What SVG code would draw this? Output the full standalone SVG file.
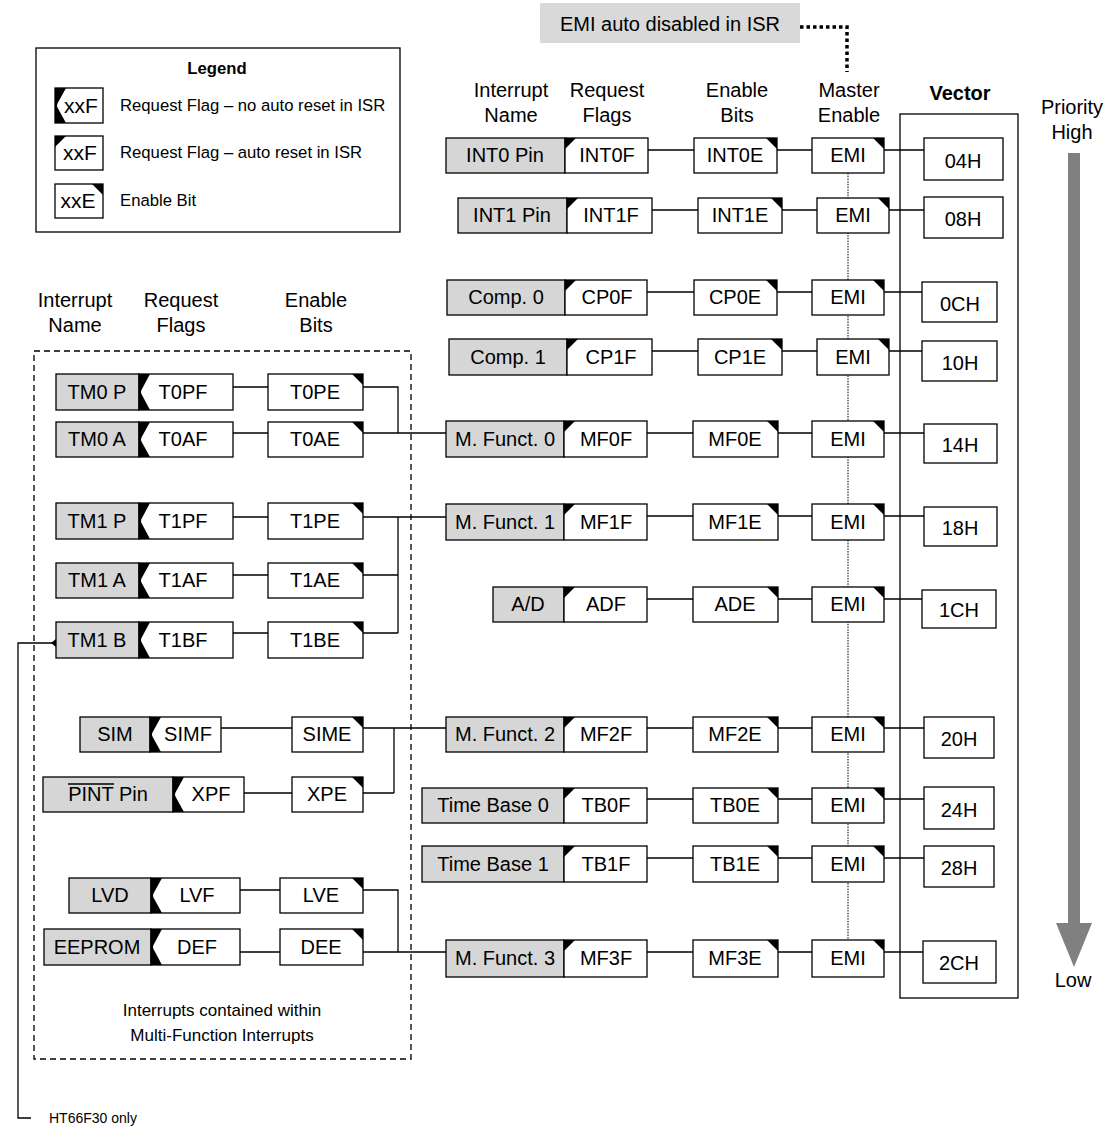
<svg xmlns="http://www.w3.org/2000/svg" width="1109" height="1129" viewBox="0 0 1109 1129">
<style>
.g{fill:#d6d6d6;stroke:#000;stroke-width:1.3}
.w{fill:#fff;stroke:#000;stroke-width:1.3}
.k{fill:#000;stroke:none}
.c{fill:none;stroke:#000;stroke-width:1.3}
.t{font-family:"Liberation Sans",Arial,sans-serif;font-size:20px;text-anchor:middle;fill:#000}
.s{font-family:"Liberation Sans",Arial,sans-serif;font-size:16.7px;fill:#000}
.b{font-weight:bold}
</style>
<rect width="1109" height="1129" fill="#fff"/>

<!-- Legend -->
<g id="legend">
<rect x="36" y="48" width="364" height="184" class="w"/>
<text x="217" y="74" class="s b" text-anchor="middle">Legend</text>
<rect x="55" y="88" width="48" height="35" class="w"/>
<path d="M55,88 H66 L58,102.5 Q56,105.5 58,108.5 L66,123 H55 Z" class="k"/>
<text x="81" y="113" class="t" style="font-size:21px">xxF</text>
<text x="120" y="111" class="s">Request Flag – no auto reset in ISR</text>
<rect x="55" y="136" width="48" height="34" class="w"/>
<path d="M55,136 H66 L55,147 Z" class="k"/>
<text x="80" y="160" class="t" style="font-size:21px">xxF</text>
<text x="120" y="158" class="s">Request Flag – auto reset in ISR</text>
<rect x="55" y="184" width="48" height="34" class="w"/>
<path d="M103,184 H92 L103,195 Z" class="k"/>
<text x="78" y="208" class="t" style="font-size:21px">xxE</text>
<text x="120" y="206" class="s">Enable Bit</text>
</g>

<!-- EMI note -->
<g id="emi-note">
<rect x="540" y="3" width="260" height="40" fill="#d9d9d9"/>
<text x="670" y="31" class="t">EMI auto disabled in ISR</text>
</g>

<!-- Headers -->
<g id="headers">
<text x="511" y="97" class="t">Interrupt</text><text x="511" y="122" class="t">Name</text>
<text x="607" y="97" class="t">Request</text><text x="607" y="122" class="t">Flags</text>
<text x="737" y="97" class="t">Enable</text><text x="737" y="122" class="t">Bits</text>
<text x="849" y="97" class="t">Master</text><text x="849" y="122" class="t">Enable</text>
<text x="960" y="100" class="t b">Vector</text>
<text x="1072" y="114" class="t">Priority</text><text x="1072" y="139" class="t">High</text>
<text x="75" y="307" class="t">Interrupt</text><text x="75" y="332" class="t">Name</text>
<text x="181" y="307" class="t">Request</text><text x="181" y="332" class="t">Flags</text>
<text x="316" y="307" class="t">Enable</text><text x="316" y="332" class="t">Bits</text>
</g>

<!-- Connectors -->
<g id="connectors">
<path d="M800,27 H847 V72" fill="none" stroke="#000" stroke-width="3.5" stroke-dasharray="3.5 3"/>
<path d="M848,173 V940" fill="none" stroke="#000" stroke-width="1" stroke-dasharray="1.5 1.2"/>
<!-- right rows -->
<path class="c" d="M648,150 H694 M777,150 H812 M884,150 H924"/>
<path class="c" d="M652,210 H698 M782,210 H817 M889,210 H924"/>
<path class="c" d="M647,292 H694 M777,292 H812 M884,292 H922"/>
<path class="c" d="M652,351 H698 M782,351 H817 M889,351 H922"/>
<path class="c" d="M647,433 H693 M778,433 H812 M884,433 H924"/>
<path class="c" d="M647,516 H693 M778,516 H812 M884,516 H924"/>
<path class="c" d="M647,599 H693 M778,599 H812 M884,599 H922"/>
<path class="c" d="M647,728 H693 M778,728 H812 M884,728 H924"/>
<path class="c" d="M647,799 H693 M778,799 H812 M884,799 H924"/>
<path class="c" d="M647,858 H693 M778,858 H812 M884,858 H924"/>
<path class="c" d="M647,952 H693 M778,952 H812 M884,952 H923"/>
<!-- left rows -->
<path class="c" d="M233,387 H268 M363,387 H398 V433 M233,433 H268 M363,433 H446"/>
<path class="c" d="M233,517 H268 M363,517 H446 M398,517 V633 M233,575 H268 M363,575 H398 M233,633 H268 M363,633 H398"/>
<path class="c" d="M221,728 H292 M363,728 H446 M394,728 V793 M244,793 H292 M363,793 H394"/>
<path class="c" d="M240,890 H280 M363,890 H398 V952 M240,952 H280 M363,952 H446"/>
<path class="c" d="M56,643 H18 V1118 H31"/>
<path class="k" d="M51,643 L56,639 V647 Z"/>
</g>

<!-- dashed container -->
<rect id="mf-group" x="34" y="351" width="377" height="708" fill="none" stroke="#000" stroke-width="1.3" stroke-dasharray="6 4"/>
<g id="mf-caption">
<text x="222" y="1016" class="t" style="font-size:17px">Interrupts contained within</text>
<text x="222" y="1041" class="t" style="font-size:17px">Multi-Function Interrupts</text>
</g>
<text id="ht-note" x="49" y="1123" class="s" style="font-size:14px">HT66F30 only</text>

<!-- Vector container -->
<rect id="vector-box" x="900" y="114" width="118" height="884" class="c"/>

<!-- Priority arrow -->
<g id="priority">
<rect x="1068" y="153" width="12" height="772" fill="#808080"/>
<polygon points="1056,923 1092,923 1074,967" fill="#808080"/>
<text x="1073" y="987" class="t">Low</text>
</g>

<!-- Right rows -->
<g id="int0">
<rect x="446" y="138" width="119" height="35" class="g"/><text x="505" y="162" class="t">INT0 Pin</text>
<rect x="565" y="138" width="83" height="35" class="w"/><path d="M565,138 h11 L565,149 Z" class="k"/><text x="607" y="162" class="t">INT0F</text>
</g>
<g id="int0e"><rect x="694" y="138" width="83" height="35" class="w"/><path d="M777,138 h-11 L777,149 Z" class="k"/><text x="735" y="162" class="t">INT0E</text></g>
<g id="emi0"><rect x="812" y="138" width="72" height="35" class="w"/><path d="M884,138 h-11 L884,149 Z" class="k"/><text x="848" y="162" class="t">EMI</text></g>
<g id="v04"><rect x="924" y="138" width="79" height="42" class="w"/><text x="963" y="168" class="t">04H</text></g>

<g id="int1">
<rect x="458" y="198" width="109" height="35" class="g"/><text x="512" y="222" class="t">INT1 Pin</text>
<rect x="567" y="198" width="85" height="35" class="w"/><path d="M567,198 h11 L567,209 Z" class="k"/><text x="611" y="222" class="t">INT1F</text>
</g>
<g id="int1e"><rect x="698" y="198" width="84" height="35" class="w"/><path d="M782,198 h-11 L782,209 Z" class="k"/><text x="740" y="222" class="t">INT1E</text></g>
<g id="emi1"><rect x="817" y="198" width="72" height="35" class="w"/><path d="M889,198 h-11 L889,209 Z" class="k"/><text x="853" y="222" class="t">EMI</text></g>
<g id="v08"><rect x="924" y="197" width="79" height="41" class="w"/><text x="963" y="226" class="t">08H</text></g>

<g id="cp0">
<rect x="447" y="280" width="118" height="35" class="g"/><text x="506" y="304" class="t">Comp. 0</text>
<rect x="565" y="280" width="82" height="35" class="w"/><path d="M565,280 h11 L565,291 Z" class="k"/><text x="607" y="304" class="t">CP0F</text>
</g>
<g id="cp0e"><rect x="694" y="280" width="83" height="35" class="w"/><path d="M777,280 h-11 L777,291 Z" class="k"/><text x="735" y="304" class="t">CP0E</text></g>
<g id="emi2"><rect x="812" y="280" width="72" height="35" class="w"/><path d="M884,280 h-11 L884,291 Z" class="k"/><text x="848" y="304" class="t">EMI</text></g>
<g id="v0c"><rect x="922" y="282" width="75" height="40" class="w"/><text x="960" y="311" class="t">0CH</text></g>

<g id="cp1">
<rect x="449" y="339" width="118" height="36" class="g"/><text x="508" y="364" class="t">Comp. 1</text>
<rect x="567" y="339" width="85" height="36" class="w"/><path d="M567,339 h11 L567,350 Z" class="k"/><text x="611" y="364" class="t">CP1F</text>
</g>
<g id="cp1e"><rect x="698" y="339" width="84" height="36" class="w"/><path d="M782,339 h-11 L782,350 Z" class="k"/><text x="740" y="364" class="t">CP1E</text></g>
<g id="emi3"><rect x="817" y="339" width="72" height="36" class="w"/><path d="M889,339 h-11 L889,350 Z" class="k"/><text x="853" y="364" class="t">EMI</text></g>
<g id="v10"><rect x="922" y="341" width="75" height="40" class="w"/><text x="960" y="370" class="t">10H</text></g>

<g id="mf0">
<rect x="446" y="421" width="118" height="36" class="g"/><text x="505" y="446" class="t">M. Funct. 0</text>
<rect x="564" y="421" width="83" height="36" class="w"/><path d="M564,421 h11 L564,432 Z" class="k"/><text x="606" y="446" class="t">MF0F</text>
</g>
<g id="mf0e"><rect x="693" y="421" width="85" height="36" class="w"/><path d="M778,421 h-11 L778,432 Z" class="k"/><text x="735" y="446" class="t">MF0E</text></g>
<g id="emi4"><rect x="812" y="421" width="72" height="36" class="w"/><path d="M884,421 h-11 L884,432 Z" class="k"/><text x="848" y="446" class="t">EMI</text></g>
<g id="v14"><rect x="924" y="424" width="73" height="39" class="w"/><text x="960" y="452" class="t">14H</text></g>

<g id="mf1">
<rect x="446" y="504" width="118" height="36" class="g"/><text x="505" y="529" class="t">M. Funct. 1</text>
<rect x="564" y="504" width="83" height="36" class="w"/><path d="M564,504 h11 L564,515 Z" class="k"/><text x="606" y="529" class="t">MF1F</text>
</g>
<g id="mf1e"><rect x="693" y="504" width="85" height="36" class="w"/><path d="M778,504 h-11 L778,515 Z" class="k"/><text x="735" y="529" class="t">MF1E</text></g>
<g id="emi5"><rect x="812" y="504" width="72" height="36" class="w"/><path d="M884,504 h-11 L884,515 Z" class="k"/><text x="848" y="529" class="t">EMI</text></g>
<g id="v18"><rect x="924" y="507" width="73" height="39" class="w"/><text x="960" y="535" class="t">18H</text></g>

<g id="ad">
<rect x="493" y="587" width="71" height="35" class="g"/><text x="528" y="611" class="t">A/D</text>
<rect x="564" y="587" width="83" height="35" class="w"/><path d="M564,587 h11 L564,598 Z" class="k"/><text x="606" y="611" class="t">ADF</text>
</g>
<g id="ade"><rect x="693" y="587" width="85" height="35" class="w"/><path d="M778,587 h-11 L778,598 Z" class="k"/><text x="735" y="611" class="t">ADE</text></g>
<g id="emi6"><rect x="812" y="587" width="72" height="35" class="w"/><path d="M884,587 h-11 L884,598 Z" class="k"/><text x="848" y="611" class="t">EMI</text></g>
<g id="v1c"><rect x="922" y="590" width="74" height="38" class="w"/><text x="959" y="617" class="t">1CH</text></g>

<g id="mf2">
<rect x="446" y="717" width="118" height="35" class="g"/><text x="505" y="741" class="t">M. Funct. 2</text>
<rect x="564" y="717" width="83" height="35" class="w"/><path d="M564,717 h11 L564,728 Z" class="k"/><text x="606" y="741" class="t">MF2F</text>
</g>
<g id="mf2e"><rect x="693" y="717" width="85" height="35" class="w"/><path d="M778,717 h-11 L778,728 Z" class="k"/><text x="735" y="741" class="t">MF2E</text></g>
<g id="emi7"><rect x="812" y="717" width="72" height="35" class="w"/><path d="M884,717 h-11 L884,728 Z" class="k"/><text x="848" y="741" class="t">EMI</text></g>
<g id="v20"><rect x="924" y="717" width="70" height="41" class="w"/><text x="959" y="746" class="t">20H</text></g>

<g id="tb0">
<rect x="422" y="788" width="142" height="35" class="g"/><text x="493" y="812" class="t">Time Base 0</text>
<rect x="564" y="788" width="83" height="35" class="w"/><path d="M564,788 h11 L564,799 Z" class="k"/><text x="606" y="812" class="t">TB0F</text>
</g>
<g id="tb0e"><rect x="693" y="788" width="85" height="35" class="w"/><path d="M778,788 h-11 L778,799 Z" class="k"/><text x="735" y="812" class="t">TB0E</text></g>
<g id="emi8"><rect x="812" y="788" width="72" height="35" class="w"/><path d="M884,788 h-11 L884,799 Z" class="k"/><text x="848" y="812" class="t">EMI</text></g>
<g id="v24"><rect x="924" y="787" width="70" height="42" class="w"/><text x="959" y="817" class="t">24H</text></g>

<g id="tb1">
<rect x="422" y="846" width="142" height="36" class="g"/><text x="493" y="871" class="t">Time Base 1</text>
<rect x="564" y="846" width="83" height="36" class="w"/><path d="M564,846 h11 L564,857 Z" class="k"/><text x="606" y="871" class="t">TB1F</text>
</g>
<g id="tb1e"><rect x="693" y="846" width="85" height="36" class="w"/><path d="M778,846 h-11 L778,857 Z" class="k"/><text x="735" y="871" class="t">TB1E</text></g>
<g id="emi9"><rect x="812" y="846" width="72" height="36" class="w"/><path d="M884,846 h-11 L884,857 Z" class="k"/><text x="848" y="871" class="t">EMI</text></g>
<g id="v28"><rect x="924" y="846" width="70" height="41" class="w"/><text x="959" y="875" class="t">28H</text></g>

<g id="mf3">
<rect x="446" y="940" width="118" height="37" class="g"/><text x="505" y="965" class="t">M. Funct. 3</text>
<rect x="564" y="940" width="83" height="37" class="w"/><path d="M564,940 h11 L564,951 Z" class="k"/><text x="606" y="965" class="t">MF3F</text>
</g>
<g id="mf3e"><rect x="693" y="940" width="85" height="37" class="w"/><path d="M778,940 h-11 L778,951 Z" class="k"/><text x="735" y="965" class="t">MF3E</text></g>
<g id="emi10"><rect x="812" y="940" width="72" height="37" class="w"/><path d="M884,940 h-11 L884,951 Z" class="k"/><text x="848" y="965" class="t">EMI</text></g>
<g id="v2c"><rect x="923" y="941" width="73" height="42" class="w"/><text x="959" y="970" class="t">2CH</text></g>

<!-- Left rows -->
<g id="tm0p">
<rect x="56" y="374" width="83" height="36" class="g"/><text x="97" y="399" class="t">TM0 P</text>
<rect x="139" y="374" width="94" height="36" class="w"/><path d="M139,374 H150 L142,389 Q140,392 142,395 L150,410 H139 Z" class="k"/><text x="183" y="399" class="t">T0PF</text>
</g>
<g id="t0pe"><rect x="268" y="374" width="95" height="36" class="w"/><path d="M363,374 h-11 L363,385 Z" class="k"/><text x="315" y="399" class="t">T0PE</text></g>

<g id="tm0a">
<rect x="56" y="422" width="83" height="35" class="g"/><text x="97" y="446" class="t">TM0 A</text>
<rect x="139" y="422" width="94" height="35" class="w"/><path d="M139,422 H150 L142,436.5 Q140,439.5 142,442.5 L150,457 H139 Z" class="k"/><text x="183" y="446" class="t">T0AF</text>
</g>
<g id="t0ae"><rect x="268" y="422" width="95" height="35" class="w"/><path d="M363,422 h-11 L363,433 Z" class="k"/><text x="315" y="446" class="t">T0AE</text></g>

<g id="tm1p">
<rect x="56" y="503" width="83" height="36" class="g"/><text x="97" y="528" class="t">TM1 P</text>
<rect x="139" y="503" width="94" height="36" class="w"/><path d="M139,503 H150 L142,518 Q140,521 142,524 L150,539 H139 Z" class="k"/><text x="183" y="528" class="t">T1PF</text>
</g>
<g id="t1pe"><rect x="268" y="503" width="95" height="36" class="w"/><path d="M363,503 h-11 L363,514 Z" class="k"/><text x="315" y="528" class="t">T1PE</text></g>

<g id="tm1a">
<rect x="56" y="563" width="83" height="35" class="g"/><text x="97" y="587" class="t">TM1 A</text>
<rect x="139" y="563" width="94" height="35" class="w"/><path d="M139,563 H150 L142,577.5 Q140,580.5 142,583.5 L150,598 H139 Z" class="k"/><text x="183" y="587" class="t">T1AF</text>
</g>
<g id="t1ae"><rect x="268" y="563" width="95" height="35" class="w"/><path d="M363,563 h-11 L363,574 Z" class="k"/><text x="315" y="587" class="t">T1AE</text></g>

<g id="tm1b">
<rect x="56" y="622" width="83" height="36" class="g"/><text x="97" y="647" class="t">TM1 B</text>
<rect x="139" y="622" width="94" height="36" class="w"/><path d="M139,622 H150 L142,637 Q140,640 142,643 L150,658 H139 Z" class="k"/><text x="183" y="647" class="t">T1BF</text>
</g>
<g id="t1be"><rect x="268" y="622" width="95" height="36" class="w"/><path d="M363,622 h-11 L363,633 Z" class="k"/><text x="315" y="647" class="t">T1BE</text></g>

<g id="sim">
<rect x="80" y="717" width="70" height="35" class="g"/><text x="115" y="741" class="t">SIM</text>
<rect x="150" y="717" width="71" height="35" class="w"/><path d="M150,717 H161 L153,731.5 Q151,734.5 153,737.5 L161,752 H150 Z" class="k"/><text x="188" y="741" class="t">SIMF</text>
</g>
<g id="sime"><rect x="292" y="717" width="71" height="35" class="w"/><path d="M363,717 h-11 L363,728 Z" class="k"/><text x="327" y="741" class="t">SIME</text></g>

<g id="pint">
<rect x="43" y="777" width="130" height="35" class="g"/><text x="108" y="801" class="t">PINT Pin</text>
<line x1="68" y1="784" x2="114" y2="784" stroke="#000" stroke-width="1.3"/>
<rect x="173" y="777" width="71" height="35" class="w"/><path d="M173,777 H184 L176,791.5 Q174,794.5 176,797.5 L184,812 H173 Z" class="k"/><text x="211" y="801" class="t">XPF</text>
</g>
<g id="xpe"><rect x="292" y="777" width="71" height="35" class="w"/><path d="M363,777 h-11 L363,788 Z" class="k"/><text x="327" y="801" class="t">XPE</text></g>

<g id="lvd">
<rect x="69" y="878" width="82" height="35" class="g"/><text x="110" y="902" class="t">LVD</text>
<rect x="151" y="878" width="89" height="35" class="w"/><path d="M151,878 H162 L154,892.5 Q152,895.5 154,898.5 L162,913 H151 Z" class="k"/><text x="197" y="902" class="t">LVF</text>
</g>
<g id="lve"><rect x="280" y="878" width="83" height="35" class="w"/><path d="M363,878 h-11 L363,889 Z" class="k"/><text x="321" y="902" class="t">LVE</text></g>

<g id="eeprom">
<rect x="44" y="929" width="107" height="36" class="g"/><text x="97" y="954" class="t">EEPROM</text>
<rect x="151" y="929" width="89" height="36" class="w"/><path d="M151,929 H162 L154,944 Q152,947 154,950 L162,965 H151 Z" class="k"/><text x="197" y="954" class="t">DEF</text>
</g>
<g id="dee"><rect x="280" y="929" width="83" height="36" class="w"/><path d="M363,929 h-11 L363,940 Z" class="k"/><text x="321" y="954" class="t">DEE</text></g>
</svg>
